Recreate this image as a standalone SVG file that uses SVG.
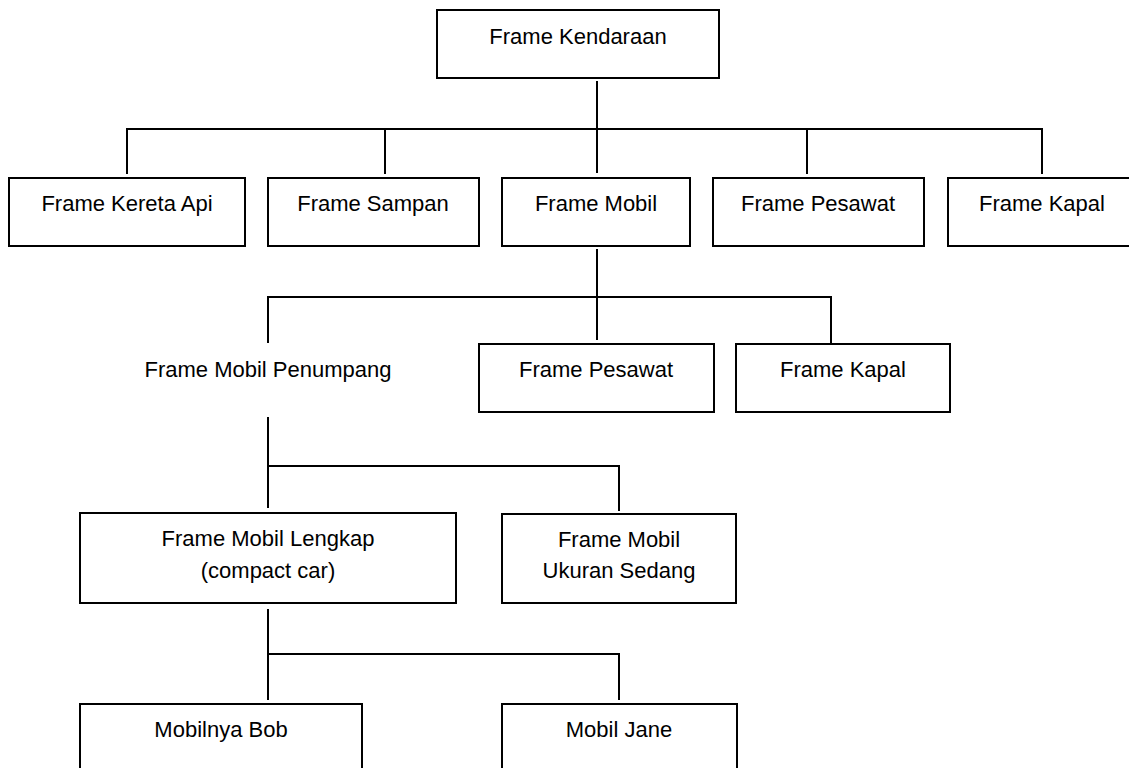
<svg xmlns="http://www.w3.org/2000/svg" width="1129" height="768" viewBox="0 0 1129 768">
  <style>
    .box { fill: #ffffff; stroke: #000000; stroke-width: 2; }
    .lbl { font-family: "Liberation Sans", Arial, sans-serif; font-size: 22px; fill: #000000; text-anchor: middle; }
    .wire { fill: none; stroke: #000000; stroke-width: 2; }
  </style>
  <rect width="1129" height="768" fill="#ffffff"/>

  <!-- connectors -->
  <g id="connectors">
    <!-- Kendaraan to first row -->
    <line class="wire" x1="597" y1="81" x2="597" y2="173"/>
    <path class="wire" d="M127 174 V129 H1042 V174"/>
    <line class="wire" x1="385" y1="129" x2="385" y2="174"/>
    <line class="wire" x1="807" y1="129" x2="807" y2="174"/>
    <!-- Mobil to second row -->
    <line class="wire" x1="597" y1="249" x2="597" y2="340"/>
    <path class="wire" d="M268 343 V297 H831 V343"/>
    <!-- Penumpang to third row -->
    <line class="wire" x1="268" y1="417" x2="268" y2="508"/>
    <path class="wire" d="M268 466 H619 V511"/>
    <!-- Lengkap to fourth row -->
    <line class="wire" x1="268" y1="609" x2="268" y2="700"/>
    <path class="wire" d="M268 654 H619 V700"/>
  </g>

  <g id="frame-kendaraan">
    <rect class="box" x="437" y="10" width="282" height="68"/>
    <text class="lbl" x="578" y="44">Frame Kendaraan</text>
  </g>

  <g id="frame-kereta-api">
    <rect class="box" x="9" y="178" width="236" height="68"/>
    <text class="lbl" x="127" y="211">Frame Kereta Api</text>
  </g>
  <g id="frame-sampan">
    <rect class="box" x="268" y="178" width="211" height="68"/>
    <text class="lbl" x="373" y="211">Frame Sampan</text>
  </g>
  <g id="frame-mobil">
    <rect class="box" x="502" y="178" width="188" height="68"/>
    <text class="lbl" x="596" y="211">Frame Mobil</text>
  </g>
  <g id="frame-pesawat">
    <rect class="box" x="713" y="178" width="211" height="68"/>
    <text class="lbl" x="818" y="211">Frame Pesawat</text>
  </g>
  <g id="frame-kapal">
    <rect class="box" x="948" y="178" width="188" height="68"/>
    <text class="lbl" x="1042" y="211">Frame Kapal</text>
  </g>

  <g id="frame-mobil-penumpang">
    <text class="lbl" x="268" y="377">Frame Mobil Penumpang</text>
  </g>
  <g id="frame-pesawat-2">
    <rect class="box" x="479" y="344" width="235" height="68"/>
    <text class="lbl" x="596" y="377">Frame Pesawat</text>
  </g>
  <g id="frame-kapal-2">
    <rect class="box" x="736" y="344" width="214" height="68"/>
    <text class="lbl" x="843" y="377">Frame Kapal</text>
  </g>

  <g id="frame-mobil-lengkap">
    <rect class="box" x="80" y="513" width="376" height="90"/>
    <text class="lbl" x="268" y="546">Frame Mobil Lengkap</text>
    <text class="lbl" x="268" y="578">(compact car)</text>
  </g>
  <g id="frame-mobil-ukuran-sedang">
    <rect class="box" x="502" y="514" width="234" height="89"/>
    <text class="lbl" x="619" y="547">Frame Mobil</text>
    <text class="lbl" x="619" y="578">Ukuran Sedang</text>
  </g>

  <g id="mobilnya-bob">
    <rect class="box" x="80" y="704" width="282" height="80"/>
    <text class="lbl" x="221" y="737">Mobilnya Bob</text>
  </g>
  <g id="mobil-jane">
    <rect class="box" x="502" y="704" width="235" height="80"/>
    <text class="lbl" x="619" y="737">Mobil Jane</text>
  </g>
</svg>
